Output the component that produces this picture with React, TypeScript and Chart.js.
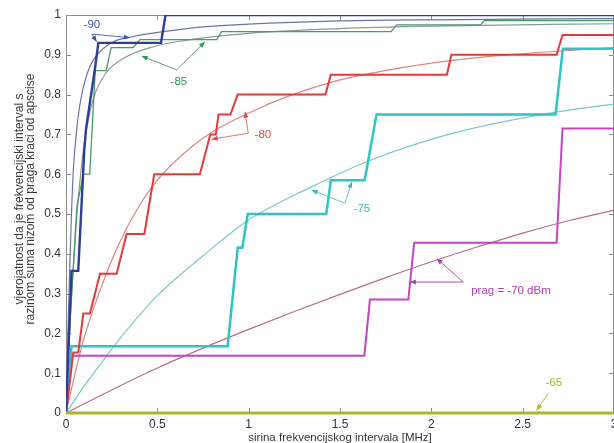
import React, { useEffect, useRef } from "react";
import { Chart, registerables } from "chart.js";

Chart.register(...registerables);

type Pt = [number, number];

// Empirical (step) traces for each noise threshold [dBm]
const step90: Pt[] = [
  [0, 0], [0.03, 0.357], [0.067, 0.357], [0.1, 0.66], [0.11, 0.715], [0.16, 0.87],
  [0.177, 0.93], [0.52, 0.93], [0.545, 1.0], [3, 1.0],
];
const step85: Pt[] = [
  [0, 0], [0.015, 0.18], [0.06, 0.52], [0.095, 0.6], [0.13, 0.6], [0.16, 0.86],
  [0.22, 0.86], [0.247, 0.918], [0.368, 0.918], [0.405, 0.938], [0.825, 0.938],
  [0.852, 0.958], [1.78, 0.958], [1.81, 0.975], [2.27, 0.975], [2.29, 0.986], [3, 0.986],
];
const step80: Pt[] = [
  [0, 0], [0.04, 0.152], [0.067, 0.152], [0.095, 0.25], [0.131, 0.25], [0.186, 0.35],
  [0.277, 0.35], [0.332, 0.45], [0.429, 0.45], [0.483, 0.6], [0.733, 0.6], [0.79, 0.7],
  [0.82, 0.7], [0.835, 0.75], [0.9, 0.75], [0.94, 0.8], [1.42, 0.8], [1.45, 0.85],
  [2.085, 0.85], [2.11, 0.9], [2.686, 0.9], [2.718, 0.95], [3, 0.95],
];
const step75: Pt[] = [
  [0, 0], [0.03, 0.168], [0.885, 0.168], [0.94, 0.415], [0.965, 0.415], [0.995, 0.5],
  [1.425, 0.5], [1.45, 0.585], [1.635, 0.585], [1.7, 0.75], [2.68, 0.75], [2.72, 0.915],
  [3, 0.915],
];
const step70: Pt[] = [
  [0, 0], [0.035, 0.144], [1.633, 0.144], [1.664, 0.285], [1.874, 0.285], [1.906, 0.428],
  [2.686, 0.428], [2.718, 0.715], [3, 0.715],
];
const step65: Pt[] = [[0, 0], [3, 0]];

// Fitted distribution curves
const fit90: Pt[] = [
  [0, 0], [0.01, 0.2], [0.02, 0.36], [0.03, 0.5], [0.04, 0.61], [0.064, 0.735],
  [0.086, 0.8], [0.13, 0.87], [0.18, 0.905], [0.26, 0.933], [0.37, 0.946], [0.53, 0.958],
  [0.72, 0.969], [1.0, 0.977], [1.5, 0.985], [2, 0.988], [3, 0.991],
];
const fit85: Pt[] = [
  [0, 0], [0.01, 0.1], [0.025, 0.25], [0.04, 0.36], [0.06, 0.5], [0.08, 0.6],
  [0.104, 0.69], [0.15, 0.79], [0.22, 0.855], [0.33, 0.895], [0.46, 0.918], [0.62, 0.934],
  [1.0, 0.954], [1.5, 0.966], [2, 0.972], [3, 0.978],
];
const fit80: Pt[] = [
  [0, 0], [0.05, 0.1], [0.1, 0.19], [0.18, 0.3], [0.29, 0.425], [0.4, 0.52],
  [0.5, 0.585], [0.64, 0.65], [0.79, 0.703], [1.04, 0.762], [1.2, 0.793], [1.445, 0.83],
  [1.63, 0.85], [2.08, 0.884], [2.45, 0.901], [3, 0.918],
];
const fit75: Pt[] = [
  [0, 0], [0.1, 0.068], [0.2, 0.13], [0.3, 0.19], [0.5, 0.295], [0.75, 0.395],
  [1.0, 0.485], [1.33, 0.565], [1.65, 0.632], [2.08, 0.698], [2.63, 0.752], [3, 0.776],
];
const fit70: Pt[] = [
  [0, 0], [0.25, 0.058], [0.5, 0.113], [0.75, 0.163], [1.0, 0.21], [1.25, 0.255],
  [1.5, 0.298], [1.75, 0.34], [2.0, 0.38], [2.25, 0.417], [2.5, 0.452], [2.75, 0.483],
  [3, 0.51],
];

const xTicks = [0, 0.5, 1, 1.5, 2, 2.5, 3];
const yTicks = [0, 0.1, 0.2, 0.3, 0.4, 0.5, 0.6, 0.7, 0.8, 0.9, 1];

const xTitle = "sirina frekvencijskog intervala [MHz]";
const yTitle = [
  "vjerojatnost da je frekvencijski interval s",
  "razinom suma nizom od praga kraci od apscise",
];

// Callout labels: text anchor, arrow origin and arrow tips (in axis units)
const calloutText = ["-90", "-85", "-80", "-75", "prag = -70 dBm", "-65"];
const calloutAt: Pt[] = [[0.142, 0.975], [0.618, 0.831], [1.078, 0.698], [1.62, 0.512], [2.436, 0.306], [2.671, 0.075]];
const calloutFrom: Pt[] = [[0.141, 0.952], [0.606, 0.862], [0.998, 0.703], [1.527, 0.527], [2.175, 0.329], [2.64, 0.049]];
const calloutTips: Pt[][] = [
  [[0.168, 0.933], [0.35, 0.943]],
  [[0.414, 0.897], [0.761, 0.933]],
  [[0.98, 0.757], [0.798, 0.688]],
  [[1.345, 0.56], [1.564, 0.581]],
  [[2.03, 0.388], [1.883, 0.329]],
  [[2.576, 0.007]],
];
const calloutColor = ["#3b55a6", "#2f9658", "#e04a4a", "#3cb6be", "#b040b4", "#a4b42c"];
const calloutLine = ["#5a6cae", "#6a9a7c", "#e07474", "#78c2c4", "#a25aa6", "#a8b83a"];

const FONT = "'Liberation Sans', Arial, Helvetica, sans-serif";

const toXY = (pts: Pt[]) => pts.map(([x, y]) => ({ x, y }));

const framePlugin = {
  id: "frameAndCallouts",
  beforeDatasetsDraw(chart: any) {
    const { ctx, chartArea: a, scales } = chart;
    ctx.save();
    ctx.strokeStyle = "#8c8c8c";
    ctx.lineWidth = 1;
    ctx.strokeRect(a.left + 0.5, a.top + 0.5, a.right - a.left - 1, a.bottom - a.top - 1);
    const t = 5;
    ctx.beginPath();
    xTicks.forEach((v) => {
      const px = Math.round(scales.x.getPixelForValue(v)) + 0.5;
      ctx.moveTo(px, a.bottom);
      ctx.lineTo(px, a.bottom - t);
      ctx.moveTo(px, a.top);
      ctx.lineTo(px, a.top + t);
    });
    yTicks.forEach((v) => {
      const py = Math.round(scales.y.getPixelForValue(v)) + 0.5;
      ctx.moveTo(a.left, py);
      ctx.lineTo(a.left + t, py);
      ctx.moveTo(a.right, py);
      ctx.lineTo(a.right - t, py);
    });
    ctx.stroke();
    ctx.restore();
  },
  afterDatasetsDraw(chart: any) {
    const { ctx, scales } = chart;
    const X = (v: number) => scales.x.getPixelForValue(v);
    const Y = (v: number) => scales.y.getPixelForValue(v);
    ctx.save();
    calloutText.forEach((text, i) => {
      const [fx, fy] = calloutFrom[i];
      const x0 = X(fx);
      const y0 = Y(fy);
      ctx.strokeStyle = calloutLine[i];
      ctx.fillStyle = calloutColor[i];
      ctx.lineWidth = 1;
      calloutTips[i].forEach(([tx, ty]) => {
        const x1 = X(tx);
        const y1 = Y(ty);
        ctx.beginPath();
        ctx.moveTo(x0, y0);
        ctx.lineTo(x1, y1);
        ctx.stroke();
        const ang = Math.atan2(y1 - y0, x1 - x0);
        const L = 6;
        const W = 2.5;
        ctx.beginPath();
        ctx.moveTo(x1, y1);
        ctx.lineTo(x1 - L * Math.cos(ang) + W * Math.sin(ang), y1 - L * Math.sin(ang) - W * Math.cos(ang));
        ctx.lineTo(x1 - L * Math.cos(ang) - W * Math.sin(ang), y1 - L * Math.sin(ang) + W * Math.cos(ang));
        ctx.closePath();
        ctx.fill();
      });
      ctx.font = `11.5px ${FONT}`;
      ctx.textAlign = "center";
      ctx.textBaseline = "middle";
      ctx.fillText(text, X(calloutAt[i][0]), Y(calloutAt[i][1]));
    });
    ctx.restore();
  },
  afterDraw(chart: any) {
    const { ctx } = chart;
    ctx.save();
    ctx.fillStyle = "#3a3a3a";
    ctx.font = `12px ${FONT}`;
    ctx.textAlign = "center";
    ctx.textBaseline = "middle";
    const cy = 199;
    const cols = [19.5, 31];
    yTitle.forEach((line, i) => {
      ctx.save();
      ctx.translate(cols[i], cy);
      ctx.rotate(-Math.PI / 2);
      ctx.fillText(line, 0, 0);
      ctx.restore();
    });
    ctx.restore();
  },
};

export default function App() {
  const canvasRef = useRef<HTMLCanvasElement | null>(null);

  useEffect(() => {
    const canvas = canvasRef.current;
    if (!canvas) return;

    const stepSet = (label: string, pts: Pt[], color: string, width: number, order: number) => ({
      label,
      data: toXY(pts),
      borderColor: color,
      borderWidth: width,
      pointRadius: 0,
      tension: 0,
      fill: false,
      order,
    });
    const fitSet = (label: string, pts: Pt[], color: string) => ({
      label,
      data: toXY(pts),
      borderColor: color,
      borderWidth: 1.2,
      pointRadius: 0,
      cubicInterpolationMode: "monotone" as const,
      fill: false,
      order: 3,
    });

    const chart = new Chart(canvas, {
      type: "line",
      data: {
        datasets: [
          { ...stepSet("-65", step65, "#a9b82a", 3, 0), clip: 6 } as any,
          stepSet("-90", step90, "#2c3e98", 2.4, 1),
          stepSet("-85", step85, "#4a9a68", 1.3, 2),
          stepSet("-80", step80, "#e43a3c", 2, 1),
          stepSet("-75", step75, "#2fc2ca", 2.5, 1),
          stepSet("-70", step70, "#c444c6", 2, 1),
          fitSet("fit -90", fit90, "#6b73a6"),
          fitSet("fit -85", fit85, "#8f9893"),
          fitSet("fit -80", fit80, "#e08282"),
          fitSet("fit -75", fit75, "#74cbc8"),
          fitSet("fit -70", fit70, "#b46e8e"),
        ],
      },
      options: {
        responsive: false,
        animation: false,
        devicePixelRatio: 1,
        layout: { padding: { left: 0, right: 6, top: 15, bottom: 0 } },
        plugins: { legend: { display: false }, tooltip: { enabled: false } },
        scales: {
          x: {
            type: "linear",
            min: 0,
            max: 3,
            afterBuildTicks: (s: any) => {
              s.ticks = xTicks.map((v) => ({ value: v }));
            },
            afterFit: (s: any) => {
              s.height = 30;
              s.paddingLeft = 0;
              s.paddingRight = 0;
            },
            grid: { display: false, drawTicks: false },
            border: { display: false },
            ticks: {
              padding: 4,
              maxRotation: 0,
              autoSkip: false,
              color: "#333",
              font: { family: FONT, size: 12 },
              callback: (v: any) => String(Math.round(Number(v) * 10) / 10),
            },
            title: {
              display: true,
              text: xTitle,
              color: "#333",
              padding: { top: 0, bottom: -2 },
              font: { family: FONT, size: 11.5 },
            },
          },
          y: {
            type: "linear",
            min: 0,
            max: 1,
            afterBuildTicks: (s: any) => {
              s.ticks = yTicks.map((v) => ({ value: v }));
            },
            afterFit: (s: any) => {
              s.width = 66;
              s.paddingTop = 0;
              s.paddingBottom = 0;
            },
            grid: { display: false, drawTicks: false },
            border: { display: false },
            ticks: {
              padding: 5,
              autoSkip: false,
              color: "#333",
              font: { family: FONT, size: 12 },
              callback: (v: any) => String(Math.round(Number(v) * 10) / 10),
            },
          },
        },
      },
      plugins: [framePlugin],
    });

    return () => chart.destroy();
  }, []);

  return (
    <div
      style={{
        position: "absolute",
        left: 0,
        top: 0,
        width: 614,
        height: 443,
        overflow: "hidden",
        background: "#fff",
      }}
    >
      <canvas ref={canvasRef} width={620} height={443} style={{ width: 620, height: 443, display: "block" }} />
    </div>
  );
}
